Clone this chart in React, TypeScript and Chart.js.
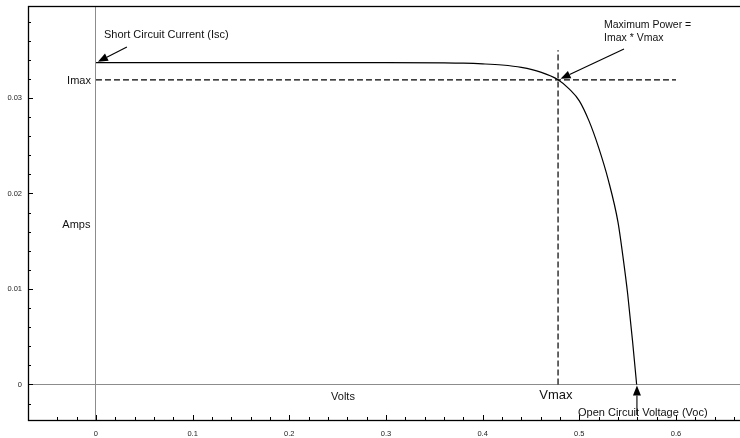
import { useEffect, useRef } from 'react';
import { Chart, registerables } from 'chart.js';

Chart.register(...registerables);

// I-V curve (volts, amps)
const voltage = [0, 0.1, 0.2, 0.3, 0.36, 0.38, 0.40, 0.42, 0.44, 0.46, 0.478, 0.49, 0.50, 0.51, 0.52, 0.53, 0.54, 0.545, 0.55, 0.555, 0.5593];
const current = [0.0337, 0.0337, 0.0337, 0.0337, 0.03367, 0.03364, 0.03357, 0.03345, 0.0332, 0.0327, 0.0319, 0.0309, 0.0297, 0.0276, 0.0248, 0.0214, 0.017, 0.0135, 0.0095, 0.0046, 0];

// Maximum power point guides
const imaxLineX = [0, 0.6];
const imaxLineY = [0.0319, 0.0319];
const vmaxLineX = [0.478, 0.478];
const vmaxLineY = [0, 0.035];

// Axis ticks
const xTickLabels = ['0', '0.1', '0.2', '0.3', '0.4', '0.5', '0.6'];
const yTickLabels = ['0', '0.01', '0.02', '0.03'];
const xMinorStep = 0.02;
const yMinorStep = 0.002;

const FONT = '"Liberation Sans", Arial, Helvetica, sans-serif';

const texts = [
  { t: 'Short Circuit Current (Isc)', x: 0.0083, y: 0.0366, align: 'left', size: 11 },
  { t: 'Imax', x: -0.0052, y: 0.03178, align: 'right', size: 11 },
  { t: 'Amps', x: -0.0202, y: 0.0167, align: 'center', size: 11 },
  { t: 'Maximum Power =', x: 0.5255, y: 0.03764, align: 'left', size: 10.5 },
  { t: 'Imax * Vmax', x: 0.5255, y: 0.03628, align: 'left', size: 10.5 },
  { t: 'Volts', x: 0.2555, y: -0.00131, align: 'center', size: 11 },
  { t: 'Vmax', x: 0.4758, y: -0.0011, align: 'center', size: 13 },
  { t: 'Open Circuit Voltage (Voc)', x: 0.4986, y: -0.00298, align: 'left', size: 11 },
];

const arrows = [
  { x1: 0.032, y1: 0.03534, x2: 0.002, y2: 0.0338 },
  { x1: 0.5462, y1: 0.03513, x2: 0.4806, y2: 0.032 },
  { x1: 0.5596, y1: -0.00319, x2: 0.5596, y2: -0.0001 },
];

function isMultiple(v: number, step: number) {
  const r = v / step;
  return Math.abs(r - Math.round(r)) < 1e-6;
}

function labelFor(v: number, labels: string[]) {
  for (const l of labels) {
    if (Math.abs(parseFloat(l) - v) < 1e-9) return l;
  }
  return '';
}

const framePlugin = {
  id: 'frameAndTicks',
  afterDraw(chart: any) {
    const { ctx, chartArea } = chart;
    const xs = chart.scales.x;
    const ys = chart.scales.y;
    ctx.save();
    ctx.strokeStyle = '#000';
    ctx.lineWidth = 1;
    // ticks (inward)
    ctx.beginPath();
    for (const t of xs.ticks) {
      const px = Math.round(xs.getPixelForValue(t.value)) + 0.5;
      const major = labelFor(t.value, xTickLabels) !== '';
      const len = major ? 5 : 3;
      ctx.moveTo(px, chartArea.bottom);
      ctx.lineTo(px, chartArea.bottom - len);
    }
    for (const t of ys.ticks) {
      const py = Math.round(ys.getPixelForValue(t.value)) + 0.5;
      const major = labelFor(t.value, yTickLabels) !== '';
      const len = major ? 5 : 3;
      ctx.moveTo(chartArea.left, py);
      ctx.lineTo(chartArea.left + len, py);
    }
    ctx.stroke();
    // frame
    ctx.lineWidth = 1.3;
    ctx.strokeRect(Math.round(chartArea.left) + 0.5, Math.round(chartArea.top) + 0.5,
      chartArea.right - chartArea.left + 10, Math.round(chartArea.bottom - chartArea.top));
    // texts
    ctx.fillStyle = '#111';
    ctx.textBaseline = 'middle';
    for (const a of texts) {
      ctx.font = `${a.size}px ${FONT}`;
      ctx.textAlign = a.align as CanvasTextAlign;
      ctx.fillText(a.t, xs.getPixelForValue(a.x), ys.getPixelForValue(a.y));
    }
    // arrows
    ctx.strokeStyle = '#000';
    ctx.fillStyle = '#000';
    ctx.lineWidth = 1.1;
    for (const a of arrows) {
      const x1 = xs.getPixelForValue(a.x1), y1 = ys.getPixelForValue(a.y1);
      const x2 = xs.getPixelForValue(a.x2), y2 = ys.getPixelForValue(a.y2);
      const ang = Math.atan2(y2 - y1, x2 - x1);
      const hl = 10, hw = 4;
      const bx = x2 - hl * Math.cos(ang), by = y2 - hl * Math.sin(ang);
      ctx.beginPath();
      ctx.moveTo(x1, y1);
      ctx.lineTo(bx, by);
      ctx.stroke();
      ctx.beginPath();
      ctx.moveTo(x2, y2);
      ctx.lineTo(bx + hw * Math.sin(ang), by - hw * Math.cos(ang));
      ctx.lineTo(bx - hw * Math.sin(ang), by + hw * Math.cos(ang));
      ctx.closePath();
      ctx.fill();
    }
    ctx.restore();
  },
};

export default function App() {
  const ref = useRef<HTMLCanvasElement>(null);
  useEffect(() => {
    if (!ref.current) return;
    const zeroGrid = (ctx: any) =>
      ctx.tick && Math.abs(ctx.tick.value) < 1e-9 ? '#8c8c8c' : 'rgba(0,0,0,0)';
    const chart = new Chart(ref.current, {
      type: 'scatter',
      data: {
        datasets: [
          {
            data: voltage.map((v, i) => ({ x: v, y: current[i] })),
            showLine: true,
            borderColor: '#000',
            borderWidth: 1.2,
            pointRadius: 0,
            cubicInterpolationMode: 'monotone',
          },
          {
            data: imaxLineX.map((v, i) => ({ x: v, y: imaxLineY[i] })),
            showLine: true,
            borderColor: '#000',
            borderWidth: 1.2,
            borderDash: [6, 3],
            pointRadius: 0,
          },
          {
            data: vmaxLineX.map((v, i) => ({ x: v, y: vmaxLineY[i] })),
            showLine: true,
            borderColor: '#000',
            borderWidth: 1.2,
            borderDash: [6, 3],
            pointRadius: 0,
          },
        ],
      },
      options: {
        responsive: false,
        animation: false,
        devicePixelRatio: 1,
        layout: { padding: { top: 6, left: 0, right: 0, bottom: 0 } },
        plugins: { legend: { display: false }, tooltip: { enabled: false } },
        scales: {
          x: {
            type: 'linear',
            min: -0.0703,
            max: 0.6869,
            afterBuildTicks: (scale: any) => {
              scale.ticks = scale.ticks.filter((t: any) => isMultiple(t.value, xMinorStep));
            },
            afterFit: (scale: any) => {
              scale.height = 18;
              scale.paddingLeft = 0;
              scale.paddingRight = 0;
            },
            ticks: {
              stepSize: xMinorStep,
              autoSkip: false,
              maxRotation: 0,
              padding: 9,
              color: '#222',
              font: { size: 7.5, family: FONT },
              callback: (v: any) => labelFor(Number(v), xTickLabels),
            },
            grid: { color: zeroGrid, drawTicks: false, lineWidth: 1 },
            border: { display: false },
          },
          y: {
            type: 'linear',
            min: -0.00372,
            max: 0.03963,
            afterBuildTicks: (scale: any) => {
              scale.ticks = scale.ticks.filter((t: any) => isMultiple(t.value, yMinorStep));
            },
            afterFit: (scale: any) => {
              scale.width = 28;
              scale.paddingTop = 0;
              scale.paddingBottom = 0;
            },
            ticks: {
              stepSize: yMinorStep,
              autoSkip: false,
              padding: 6,
              color: '#222',
              font: { size: 7.5, family: FONT },
              callback: (v: any) => labelFor(Number(v), yTickLabels),
            },
            grid: { color: zeroGrid, drawTicks: false, lineWidth: 1 },
            border: { display: false },
          },
        },
      } as any,
      plugins: [framePlugin],
    });
    return () => chart.destroy();
  }, []);
  return (
    <div style={{ position: 'fixed', left: 0, top: 0, width: 760, height: 438, background: '#fff' }}>
      <canvas ref={ref} width={760} height={438} style={{ display: 'block' }} />
    </div>
  );
}
